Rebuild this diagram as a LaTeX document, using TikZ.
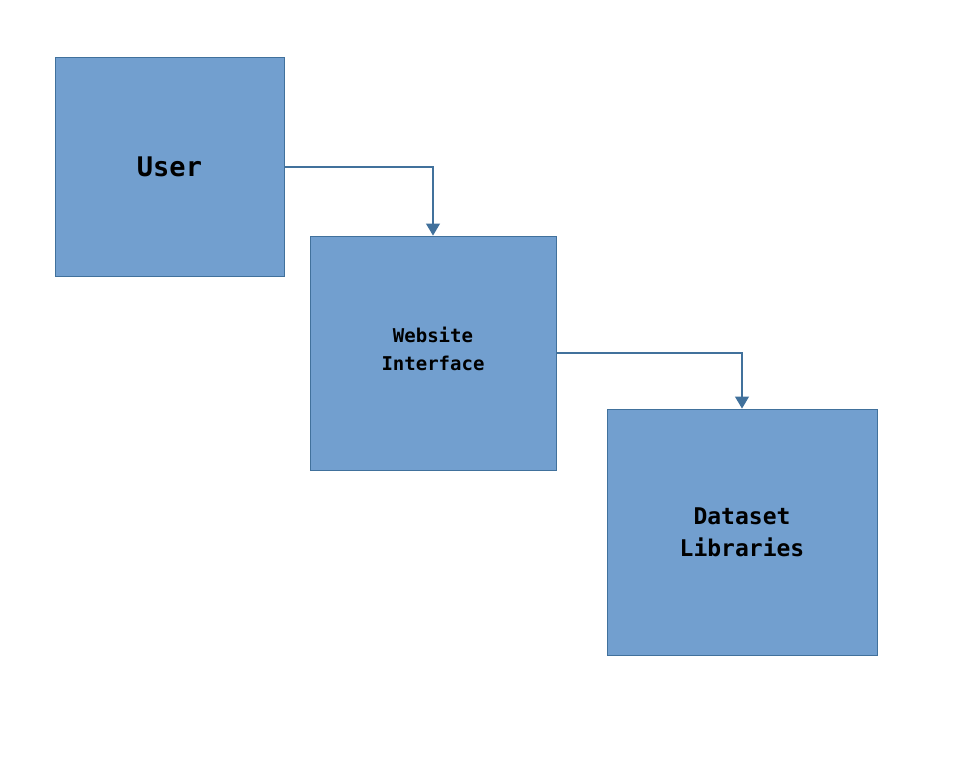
\documentclass[tikz,border=0pt]{standalone}
\usepackage{fontspec}
\newfontfamily\boxfont{DejaVu Sans Mono}
\usetikzlibrary{arrows.meta}
\definecolor{boxfill}{RGB}{114,159,207}
\definecolor{boxline}{RGB}{65,113,156}

\begin{document}
\begin{tikzpicture}[x=1pt,y=1pt,yscale=-1,xscale=1,
  blockbox/.style={draw=boxline,fill=boxfill,line width=0.9pt,inner sep=0pt,align=center,text=black},
  conn/.style={draw=boxline,line width=1.1pt,-{Triangle[width=14pt,length=12pt]}}]
\useasboundingbox (0,0) rectangle (955,783);

% Boxes
\node [blockbox,minimum width=229pt,minimum height=219pt,font=\boxfont\bfseries\fontsize{27}{32}\selectfont] (user) at (169.5,167) {User};
\node [blockbox,minimum width=246pt,minimum height=234pt,font=\boxfont\bfseries\fontsize{19}{28}\selectfont] (web) at (433,353) {Website\\Interface\\[-20pt]};
\node [blockbox,minimum width=270pt,minimum height=246pt,font=\boxfont\bfseries\fontsize{23}{32}\selectfont] (data) at (742,532) {Dataset\\Libraries};

% Connectors
\draw [conn] (user.east) -| (web.north);
\draw [conn] (web.east) -| (data.north);

\end{tikzpicture}
\end{document}
